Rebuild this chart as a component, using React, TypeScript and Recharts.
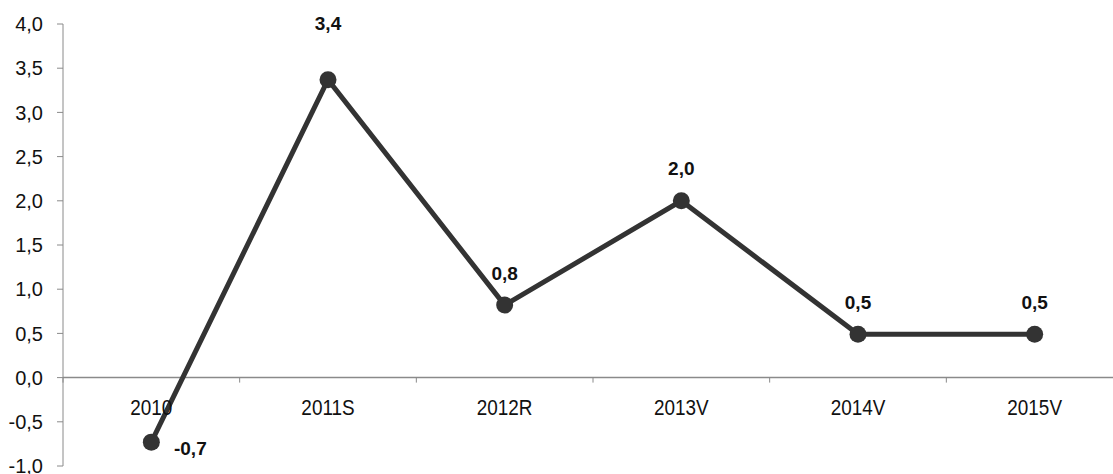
import { LineChart, Line, XAxis, YAxis, ReferenceLine, LabelList } from "recharts";

const years = ["2010", "2011S", "2012R", "2013V", "2014V", "2015V"];
const values = [-0.73, 3.37, 0.82, 2.0, 0.49, 0.49];
const yTicks = [-1, -0.5, 0, 0.5, 1, 1.5, 2, 2.5, 3, 3.5, 4];

const data = years.map((year, i) => ({ year, value: values[i] }));

const W = 1130;
const H = 474;
const M = { top: 24, right: 7, bottom: 7, left: 0 };
const X_AXIS_H = 1;
const Y_AXIS_W = 63;
const Y_MIN = -1;
const Y_MAX = 4;
const PLOT_H = H - M.top - M.bottom - X_AXIS_H;
const ZERO_Y = M.top + (PLOT_H * Y_MAX) / (Y_MAX - Y_MIN);
const BAND = (W - M.left - M.right - Y_AXIS_W) / years.length;

const FONT = "'Liberation Sans', Arial, sans-serif";
const AXIS = "#8a8a8a";
const LINE = "#333333";

const fmt = (v: number) => v.toFixed(1).replace(".", ",");

function XTick(props: any) {
  const { x, index, payload } = props;
  const last = index === years.length - 1;
  return (
    <g>
      <line x1={x - BAND / 2} x2={x - BAND / 2} y1={ZERO_Y} y2={ZERO_Y + 5} stroke={AXIS} />
      {last && <line x1={x + BAND / 2} x2={x + BAND / 2} y1={ZERO_Y} y2={ZERO_Y + 5} stroke={AXIS} />}
      <g transform={`translate(${x},${ZERO_Y + 29}) scale(0.86,1)`}>
        <text x={0} y={0} textAnchor="middle" dominantBaseline="central" fontSize={22} fontFamily={FONT} fill="#111">
          {payload.value}
        </text>
      </g>
    </g>
  );
}

function PointLabel(props: any) {
  const { x, y, value, index } = props;
  let dx = 0;
  let dy = -32;
  if (value < 0) {
    dx = 39;
    dy = 6;
  } else if (index === 1) {
    dy = -56;
  }
  return (
    <text x={x + dx} y={y + dy} textAnchor="middle" dominantBaseline="central" fontSize={19} fontWeight="bold" fontFamily={FONT} fill="#111">
      {fmt(value)}
    </text>
  );
}

export default function App() {
  return (
    <div style={{ position: "absolute", left: 0, top: 0, width: 1113, height: 474, overflow: "hidden", background: "#fff" }}>
      <LineChart width={W} height={H} data={data} margin={M}>
        <XAxis
          dataKey="year"
          scale="band"
          height={X_AXIS_H}
          axisLine={false}
          tickLine={false}
          tick={<XTick />}
          interval={0}
        />
        <YAxis
          domain={[Y_MIN, Y_MAX]}
          ticks={yTicks}
          width={Y_AXIS_W}
          tickFormatter={fmt}
          stroke={AXIS}
          tickSize={6}
          tickMargin={14}
          tick={{ fontSize: 20, fontFamily: FONT, fill: "#111" }}
          interval={0}
        />
        <ReferenceLine y={0} stroke={AXIS} strokeWidth={1.5} />
        <Line
          dataKey="value"
          stroke={LINE}
          strokeWidth={5}
          dot={{ r: 8.5, fill: LINE, stroke: LINE, strokeWidth: 0 }}
          isAnimationActive={false}
        >
          <LabelList dataKey="value" content={<PointLabel />} />
        </Line>
      </LineChart>
    </div>
  );
}
